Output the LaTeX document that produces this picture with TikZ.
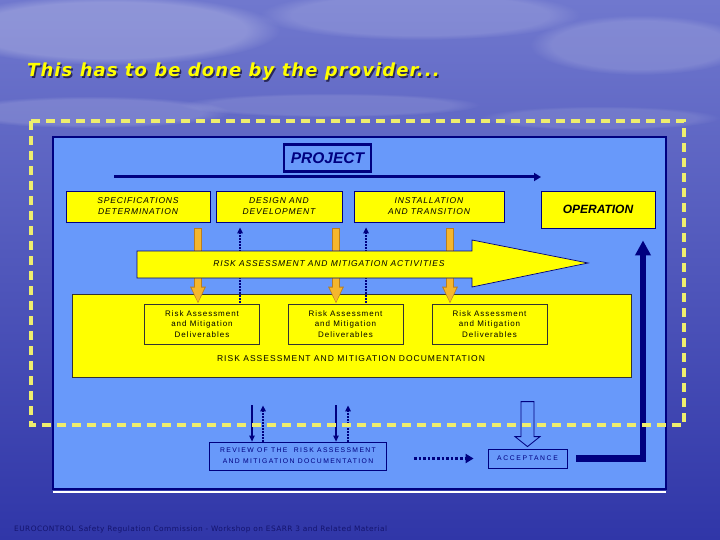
\documentclass[tikz,border=0pt]{standalone}
\usepackage{fontspec}
\setmainfont{Liberation Sans}
\newfontfamily\titlefont[LetterSpace=6]{DejaVu Sans}
\newfontfamily\lsA[LetterSpace=10]{Liberation Sans}
\newfontfamily\lsB[LetterSpace=12]{Liberation Sans}
\newfontfamily\lsC[LetterSpace=20]{Liberation Sans}
\newfontfamily\lsD[LetterSpace=24]{Liberation Sans}
\newfontfamily\footfont[LetterSpace=6]{DejaVu Sans}
\usetikzlibrary{arrows.meta,calc,fadings}
\definecolor{navy}{RGB}{0,0,128}
\definecolor{panelblue}{RGB}{104,153,250}
\definecolor{boxyellow}{RGB}{255,255,0}
\definecolor{dashyellow}{RGB}{238,238,110}
\definecolor{orangeA}{RGB}{245,182,45}
\definecolor{orangeB}{RGB}{185,125,30}
\definecolor{bgtop}{RGB}{112,120,206}
\definecolor{bgmid}{RGB}{74,82,190}
\definecolor{bgbot}{RGB}{48,54,168}
\definecolor{footcol}{RGB}{20,20,110}
\definecolor{titleshadow}{RGB}{40,40,90}
\tikzset{
  phase/.style={draw=navy, line width=0.8pt, fill=boxyellow, inner sep=0pt, align=center,
    font=\lsA\itshape\fontsize{8.5}{11}\selectfont},
  deliv/.style={draw=black!80, line width=0.8pt, fill=boxyellow, inner sep=0pt, align=center,
    minimum width=115pt, minimum height=40pt, font=\lsB\fontsize{8}{10.8}\selectfont},
  orangeedge/.style={draw=orangeB, line width=7.6pt, shorten <=6pt, -{Triangle[length=17pt,width=14.5pt]}},
  orangefill/.style={draw=orangeA, line width=5.6pt, shorten <=6.8pt, shorten >=0.9pt, -{Triangle[length=15pt,width=11.5pt]}},
  dotup/.style={draw=navy, line width=1.3pt, dash pattern=on 1.5pt off 1.5pt, -{Triangle[length=6pt,width=5.5pt]}},
  solidarr/.style={draw=navy, line width=1.2pt, -{Triangle[length=6pt,width=5.5pt]}},
  cloud/.style={fill=white, path fading=circle with fuzzy edge 20 percent}
}
\begin{document}
\begin{tikzpicture}[x=1pt,y=-1pt]
\useasboundingbox (0,0) rectangle (720,540);
% background
\shade[top color=bgtop, middle color=bgmid, bottom color=bgbot] (0,0) rectangle (720,540);
\fill[cloud, opacity=0.22] (110,30) ellipse [x radius=170, y radius=35];
\fill[cloud, opacity=0.15] (420,15) ellipse [x radius=160, y radius=25];
\fill[cloud, opacity=0.15] (640,45) ellipse [x radius=110, y radius=30];
\fill[cloud, opacity=0.15] (90,112) ellipse [x radius=140, y radius=16];
\fill[cloud, opacity=0.12] (330,105) ellipse [x radius=150, y radius=12];
\fill[cloud, opacity=0.1] (600,118) ellipse [x radius=120, y radius=12];
% title
\node[anchor=base west, inner sep=0pt, text=titleshadow, font=\titlefont\bfseries\itshape\fontsize{18}{20}\selectfont] (titleshadow) at (28.5,78.5) {This has to be done by the provider...};
\node[anchor=base west, inner sep=0pt, text=boxyellow, font=\titlefont\bfseries\itshape\fontsize{18}{20}\selectfont] (title) at (27,77) {This has to be done by the provider...};
% panel
\draw[white, line width=2pt] (53,492) -- (666,492);
\draw[navy, line width=2pt, fill=panelblue] (53,137) rectangle (666,489);
% project
\node[draw=navy, line width=2.5pt, minimum width=87pt, minimum height=27pt, inner sep=0pt, text=navy,
  font=\bfseries\itshape\fontsize{15.5}{18}\selectfont] (project) at (327.5,158) {PROJECT};
\coordinate (pa) at (114,177);
\coordinate (pb) at (541,177);
\draw[navy, line width=3pt, -{Triangle[length=7pt,width=8pt]}] (pa) -- (pb);
% phase boxes
\node[phase, minimum width=144pt, minimum height=31pt] (spec) at (138,206.5) {SPECIFICATIONS\\DETERMINATION};
\node[phase, minimum width=126pt, minimum height=31pt] (design) at (279,206.5) {DESIGN AND\\DEVELOPMENT};
\node[phase, minimum width=150pt, minimum height=31pt] (install) at (429,206.5) {INSTALLATION\\AND TRANSITION};
\node[draw=navy, line width=0.8pt, fill=boxyellow, inner sep=0pt, minimum width=114pt, minimum height=37pt,
  font=\bfseries\itshape\fontsize{12}{14}\selectfont] (oper) at (598,209.5) {OPERATION};
% documentation box and deliverables
\node[draw=black!80, line width=0.8pt, fill=boxyellow, minimum width=559pt, minimum height=83pt, inner sep=0pt] (doc) at (351.5,335.5) {};
\node[inner sep=0pt, font=\lsB\fontsize{8.5}{10}\selectfont] (doctext) at (351,359) {RISK ASSESSMENT AND MITIGATION DOCUMENTATION};
\node[deliv] (del1) at (202,324) {Risk Assessment\\and Mitigation\\Deliverables};
\node[deliv] (del2) at (345.5,324) {Risk Assessment\\and Mitigation\\Deliverables};
\node[deliv] (del3) at (489.5,324) {Risk Assessment\\and Mitigation\\Deliverables};
% orange arrows
\coordinate (c1) at (198,0);
\coordinate (c2) at (336,0);
\coordinate (c3) at (450,0);
\draw[orangeedge] (spec.south -| c1) -- (del1.north -| c1);
\draw[orangefill] (spec.south -| c1) -- (del1.north -| c1);
\draw[orangeedge] (design.south -| c2) -- (del2.north -| c2);
\draw[orangefill] (design.south -| c2) -- (del2.north -| c2);
\draw[orangeedge] (install.south -| c3) -- (del3.north -| c3);
\draw[orangefill] (install.south -| c3) -- (del3.north -| c3);
% dotted feedback arrows
\coordinate (d1) at (240,0);
\coordinate (d2) at (366,0);
\draw[dotup, shorten <=1pt, shorten >=5pt] (del1.north -| d1) -- (design.south -| d1);
\draw[dotup, shorten <=1pt, shorten >=5pt] (del2.north -| d2) -- (install.south -| d2);
% big yellow arrow
\draw[navy, line width=0.7pt, fill=boxyellow] (137,251) -- (472,251) -- (472,240) -- (588,263) -- (472,287) -- (472,278) -- (137,278) -- cycle;
\node[inner sep=0pt, font=\lsA\itshape\fontsize{8.5}{10}\selectfont] (rama) at (329,263.5) {RISK ASSESSMENT AND MITIGATION ACTIVITIES};
% review and acceptance
\node[draw=navy, line width=0.8pt, inner sep=0pt, minimum width=177pt, minimum height=28pt, align=center, text=navy,
  font=\lsC\fontsize{6.8}{11}\selectfont] (review) at (298,456) {REVIEW OF THE\ \ RISK ASSESSMENT\\AND MITIGATION DOCUMENTATION};
\node[draw=navy, line width=0.8pt, inner sep=0pt, minimum width=79pt, minimum height=19pt, text=navy,
  font=\lsD\fontsize{6.8}{8}\selectfont] (accept) at (527.5,458.5) {ACCEPTANCE};
\coordinate (r1) at (252,0);
\coordinate (r2) at (263,0);
\coordinate (r3) at (336,0);
\coordinate (r4) at (348,0);
\draw[solidarr, shorten <=28pt] (doc.south -| r1) -- (review.north -| r1);
\draw[dotup, shorten >=28pt] (review.north -| r2) -- (doc.south -| r2);
\draw[solidarr, shorten <=28pt] (doc.south -| r3) -- (review.north -| r3);
\draw[dotup, shorten >=28pt] (review.north -| r4) -- (doc.south -| r4);
\draw[navy, line width=3.2pt, dash pattern=on 2.6pt off 2pt, shorten <=27pt, shorten >=14pt,
  -{Triangle[length=8pt,width=9pt]}] (review.east |- accept.west) -- (accept.west);
% hollow block arrow
\begin{scope}[shift={(accept.north)}]
\draw[navy, line width=0.8pt] (-6.5,-47) -- (6.5,-47) -- (6.5,-12) -- (12.5,-12) -- (0,-2) -- (-12.5,-12) -- (-6.5,-12) -- cycle;
\end{scope}
% return line to operation
\coordinate (rc) at (643,0);
\draw[navy, line width=6.5pt, -{Triangle[length=15pt,width=15pt]}] ([xshift=9pt]accept.east) -| ([yshift=-12pt]oper.south -| rc);
% dashed frame
\draw[dashyellow, line width=3.2pt, dash pattern=on 9pt off 6pt] (31,121) rectangle (684,425);
% footer
\node[anchor=base west, inner sep=0pt, text=footcol, font=\footfont\fontsize{7.4}{8}\selectfont] (footer) at (14,531) {EUROCONTROL Safety Regulation Commission - Workshop on ESARR 3 and Related Material};
\end{tikzpicture}
\end{document}
